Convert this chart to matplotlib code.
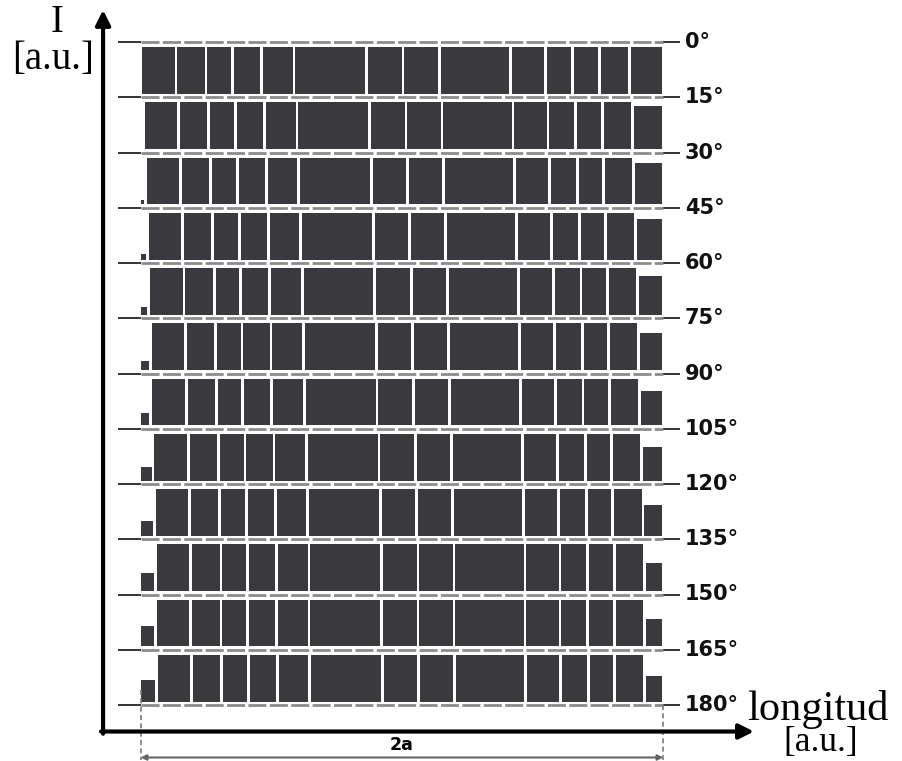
import numpy as np
import matplotlib.pyplot as plt

# angle of every baseline, from top to bottom
angles = [0, 15, 30, 45, 60, 75, 90, 105, 120, 135, 150, 165, 180]

# widths of the 14 segments across the length 2a (a.u., they add up to 2)
widths = [0.135, 0.115, 0.102, 0.111, 0.124, 0.278, 0.139,
          0.138, 0.272, 0.134, 0.106, 0.101, 0.115, 0.134]

# one profile per baseline 15°..180°: shift of the pattern to the right (a.u.)
shifts = [0.000, 0.011, 0.017, 0.025, 0.031, 0.036, 0.039, 0.047, 0.052, 0.057, 0.057, 0.059]

# intensity of the clipped last segment and of the piece coming in at the left
right_level = [1.00, 0.93, 0.89, 0.86, 0.84, 0.80, 0.74, 0.71, 0.66, 0.60, 0.58, 0.55]
left_level = [0.00, 0.00, 0.09, 0.11, 0.16, 0.19, 0.26, 0.29, 0.32, 0.38, 0.43, 0.46]

BAR = '#3a3a3e'
FULL = 0.845      # full intensity, in units of the row spacing
LIFT = 0.062      # white strip between bars and their baseline
GAP = 0.0108      # white slit between neighbouring segments

fig = plt.figure(figsize=(9.02, 7.61), dpi=100)
ax = fig.add_axes([0, 0, 1, 1])
ax.set_xlim(-402 / 261.3, 500 / 261.3)
ax.set_ylim(-56 / 55.25, 705 / 55.25)
ax.axis('off')

n = len(angles)

# baselines with their angle labels
for j, ang in enumerate(angles):
    y = n - 1 - j
    ax.plot([-1.087, -1.0], [y, y], color='#333333', lw=1.4, solid_capstyle='butt')
    ax.plot([1.0, 1.064], [y, y], color='#333333', lw=1.4, solid_capstyle='butt')
    ax.plot([-1.0, 1.0], [y, y], color='#8c8c8c', lw=2.0,
            linestyle=(0, (6.5, 1.2)), dash_capstyle='butt')
    ax.text(1.083, y, f'{ang}°', ha='left', va='center',
            fontsize=15, fontweight='bold', color='#111111')

# intensity profiles standing on the baselines 15°..180°
edges = np.concatenate([[0], np.cumsum(widths)])
for k, s in enumerate(shifts):
    base = n - 2 - k + LIFT
    lefts = -1 + s + edges[:-1]
    rights = np.minimum(-1 + s + edges[1:], 1.0)
    levels = np.ones(len(widths))
    levels[-1] = right_level[k]
    ax.bar(x=lefts + GAP / 2, height=levels * FULL, width=rights - lefts - GAP,
           bottom=base, align='edge', color=BAR, linewidth=0)
    if left_level[k] > 0:
        ax.bar(x=-1.0, height=left_level[k] * FULL, width=s - GAP / 2,
               bottom=base, align='edge', color=BAR, linewidth=0)

# axes arrows
ax.annotate('', xy=(-1.144, 12.58), xytext=(-1.144, -0.52),
            arrowprops=dict(arrowstyle='-|>', lw=3, color='black',
                            mutation_scale=22, shrinkA=0, shrinkB=0))
ax.annotate('', xy=(1.347, -0.48), xytext=(-1.152, -0.48),
            arrowprops=dict(arrowstyle='-|>', lw=3, color='black',
                            mutation_scale=22, shrinkA=0, shrinkB=0))

serif = ['Liberation Serif', 'DejaVu Serif']
ax.text(-1.320, 12.36, 'I', ha='center', va='center', fontsize=28, family=serif)
ax.text(-1.336, 11.68, '[a.u.]', ha='center', va='center', fontsize=28, family=serif)
ax.text(1.320, -0.271, 'longitud', ha='left', va='baseline', fontsize=30.5, family=serif)
ax.text(1.603, -0.977, '[a.u.]', ha='center', va='bottom', fontsize=25.5, family=serif)

# length 2a marker under the profiles
for xe, ytop in [(-1.0, 0.27), (1.0, 0.0)]:
    ax.plot([xe, xe], [ytop, -1.0], color='#7a7a7a', lw=1.2, linestyle=(0, (3, 2)))
ax.annotate('', xy=(1.0, -0.95), xytext=(-1.0, -0.95),
            arrowprops=dict(arrowstyle='<|-|>', lw=1.5, color='#666666',
                            mutation_scale=8, shrinkA=0, shrinkB=0))
ax.text(0.0, -0.724, '2a', ha='center', va='center', fontsize=12.5, fontweight='bold')

fig.savefig('out.png', dpi=100)
